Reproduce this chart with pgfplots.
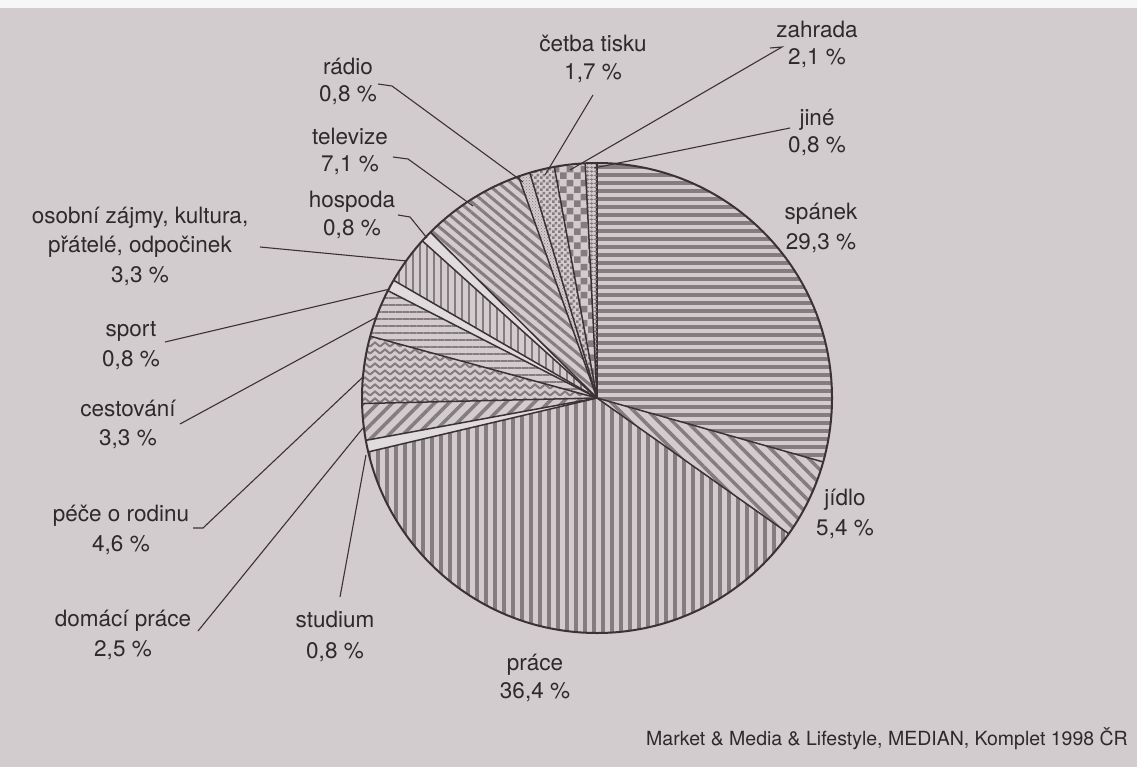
\documentclass[border=0pt]{standalone}
\usepackage{fontspec}
\setmainfont{TeX Gyre Heros}
\usepackage{pgfplots}
\usepackage{pgfplotstable}
\pgfplotsset{compat=1.18}
\usetikzlibrary{patterns,patterns.meta}

\definecolor{bg}{HTML}{D3CCCF}
\definecolor{pat}{HTML}{847C7F}
\definecolor{edge}{HTML}{3A3235}
\definecolor{ink}{HTML}{2F292C}

\tikzdeclarepattern{
  name=zigzag, type=uncolored,
  bounding box={(0pt,-1.5pt) and (10pt,7pt)},
  tile size={(10pt,7pt)},
  code={\draw[line width=2pt] (0pt,0.5pt) -- (5pt,4.5pt) -- (10pt,0.5pt);}
}
\tikzdeclarepattern{
  name=checkbig, type=uncolored,
  bounding box={(0pt,0pt) and (14pt,14pt)},
  tile size={(14pt,14pt)},
  code={\fill (0pt,0pt) rectangle (7pt,7pt); \fill (7pt,7pt) rectangle (14pt,14pt);}
}
\tikzdeclarepattern{
  name=checksmall, type=uncolored,
  bounding box={(0pt,0pt) and (6pt,6pt)},
  tile size={(6pt,6pt)},
  code={\fill (0pt,0pt) rectangle (3pt,3pt); \fill (3pt,3pt) rectangle (6pt,6pt);}
}

% one style per slice, in the order of the table rows
\tikzset{
  slice0/.style={pattern={Lines[angle=0,distance=8pt,line width=3.5pt]},pattern color=pat},
  slice1/.style={pattern={Lines[angle=-45,distance=10pt,line width=3.5pt]},pattern color=pat},
  slice2/.style={pattern={Lines[angle=90,distance=9pt,line width=3.5pt]},pattern color=pat},
  slice3/.style={fill=bg!70!white},
  slice4/.style={pattern={Lines[angle=45,distance=10pt,line width=3.5pt]},pattern color=pat},
  slice5/.style={pattern=zigzag,pattern color=pat},
  slice6/.style={pattern={Lines[angle=0,distance=7pt,line width=2.5pt]},pattern color=pat},
  slice7/.style={fill=bg!70!white},
  slice8/.style={pattern={Lines[angle=90,distance=7pt,line width=2.5pt]},pattern color=pat},
  slice9/.style={fill=bg!70!white},
  slice10/.style={pattern={Lines[angle=-40,distance=8pt,line width=3pt]},pattern color=pat},
  slice11/.style={pattern=crosshatch dots,pattern color=pat},
  slice12/.style={pattern=checksmall,pattern color=pat},
  slice13/.style={pattern=checkbig,pattern color=pat},
  slice14/.style={pattern={Hatch[distance=4pt,line width=1pt]},pattern color=pat},
  lbl/.style={anchor=base,inner sep=0pt,text=ink,font=\fontsize{22.5}{27}\selectfont},
  lead/.style={draw=edge,line width=1.1pt},
}

% share of the day, %
\pgfplotstableread{
name value
spanek 29.3
jidlo 5.4
prace 36.4
studium 0.8
domaci 2.5
pece 4.6
cestovani 3.3
sport 0.8
osobni 3.3
hospoda 0.8
televize 7.1
radio 0.8
cetba 1.7
zahrada 2.1
jine 0.8
}\piedata

\gdef\total{0}
\pgfplotstableforeachcolumnelement{value}\of\piedata\as\v{%
  \pgfmathparse{\total+\v}\xdef\total{\pgfmathresult}}

\begin{document}
\begin{tikzpicture}
\begin{axis}[
  x=1pt, y=1pt, y dir=reverse,
  xmin=0, xmax=1137, ymin=0, ymax=767,
  scale only axis, hide axis, clip=false,
  disabledatascaling,
]
\fill[bg] (axis cs:0,0) rectangle (axis cs:1137,767);
\fill[white!85!bg] (axis cs:0,0) rectangle (axis cs:1137,8);

% slices, clockwise from 12 o'clock; centre (597,398), radius 235
\gdef\cum{0}
\pgfplotstableforeachcolumnelement{value}\of\piedata\as\v{%
  \pgfmathsetmacro\a{90-\cum/\total*360}%
  \pgfmathparse{\cum+\v}\xdef\cum{\pgfmathresult}%
  \pgfmathsetmacro\b{90-\cum/\total*360}%
  \edef\temp{%
    \noexpand\fill[slice\pgfplotstablerow] (axis cs:597,398) -- (axis cs:{597+235*cos(\a)},{398-235*sin(\a)})
      arc[start angle=\a, end angle=\b, radius=235pt] -- cycle;
    \noexpand\draw[draw=edge,line width=1.5pt,line join=round] (axis cs:597,398) -- (axis cs:{597+235*cos(\a)},{398-235*sin(\a)});
  }\temp
}
\draw[draw=edge,line width=2pt] (axis cs:597,398) circle[radius=235pt];

% leader lines
\draw[lead] (axis cs:378,84) -- (axis cs:392,86) -- (axis cs:523,182);
\draw[lead] (axis cs:393,157) -- (axis cs:408,159) -- (axis cs:473,206);
\draw[lead] (axis cs:398,215) -- (axis cs:410,217) -- (axis cs:427,238);
\draw[lead] (axis cs:260,247) -- (axis cs:407,261);
\draw[lead] (axis cs:165,342) -- (axis cs:390,289);
\draw[lead] (axis cs:180,424) -- (axis cs:377,317);
\draw[lead] (axis cs:193,528) -- (axis cs:203,528) -- (axis cs:363,377);
\draw[lead] (axis cs:198,631) -- (axis cs:363,428);
\draw[lead] (axis cs:340,597) -- (axis cs:366,455);
\draw[lead] (axis cs:593,95) -- (axis cs:545,175);
\draw[lead] (axis cs:770,48) -- (axis cs:782,47) -- (axis cs:570,170);
\draw[lead] (axis cs:790,128) -- (axis cs:594,168);

% labels
\node[lbl] at (axis cs:348,75) {rádio};
\node[lbl] at (axis cs:348,102) {0,8 \%};
\node[lbl] at (axis cs:350,145) {televize};
\node[lbl] at (axis cs:350,172) {7,1 \%};
\node[lbl] at (axis cs:352,208) {hospoda};
\node[lbl] at (axis cs:352,236) {0,8 \%};
\node[lbl] at (axis cs:140,224) {osobní zájmy, kultura,};
\node[lbl] at (axis cs:140,253) {přátelé, odpočinek};
\node[lbl] at (axis cs:140,282) {3,3 \%};
\node[lbl] at (axis cs:131,336) {sport};
\node[lbl] at (axis cs:131,366) {0,8 \%};
\node[lbl] at (axis cs:128,416) {cestování};
\node[lbl] at (axis cs:128,445) {3,3 \%};
\node[lbl] at (axis cs:121,521) {péče o rodinu};
\node[lbl] at (axis cs:121,551) {4,6 \%};
\node[lbl] at (axis cs:123,626) {domácí práce};
\node[lbl] at (axis cs:123,656) {2,5 \%};
\node[lbl] at (axis cs:335,627) {studium};
\node[lbl] at (axis cs:335,658) {0,8 \%};
\node[lbl] at (axis cs:535,670) {práce};
\node[lbl] at (axis cs:535,698) {36,4 \%};
\node[lbl] at (axis cs:821,220) {spánek};
\node[lbl] at (axis cs:821,250) {29,3 \%};
\node[lbl] at (axis cs:845,505) {jídlo};
\node[lbl] at (axis cs:845,535) {5,4 \%};
\node[lbl] at (axis cs:593,52) {četba tisku};
\node[lbl] at (axis cs:593,80) {1,7 \%};
\node[lbl] at (axis cs:817,38) {zahrada};
\node[lbl] at (axis cs:817,65) {2,1 \%};
\node[lbl] at (axis cs:817,126) {jiné};
\node[lbl] at (axis cs:817,153) {0,8 \%};
\node[lbl,anchor=base east,font=\fontsize{19.5}{24}\selectfont] at (axis cs:1128,745) {Market \& Media \& Lifestyle, MEDIAN, Komplet 1998 ČR};
\end{axis}
\end{tikzpicture}
\end{document}
